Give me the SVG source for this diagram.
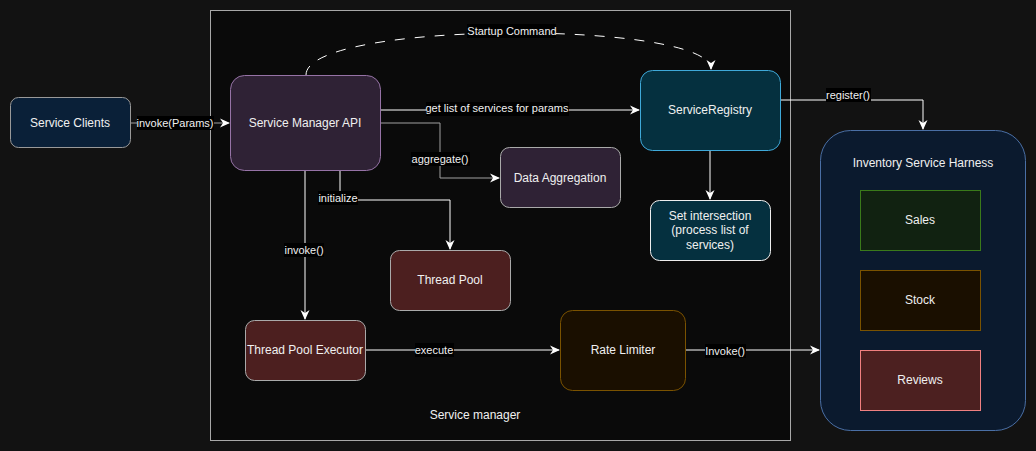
<svg xmlns="http://www.w3.org/2000/svg" width="1036" height="451" viewBox="0 0 1036 451">
<defs>
<style>
text{font-family:"Liberation Sans",Arial,sans-serif;fill:#f0f0f0;text-anchor:middle;dominant-baseline:central}
.n{font-size:12px}
.l{font-size:11px}
.e{fill:none;stroke:#ffffff;stroke-width:1}
.g{stroke:#a0a0a0}
.lb{fill:#000000}
</style>
<marker id="ah" viewBox="0 0 10 10" refX="9" refY="5" markerWidth="10" markerHeight="10" markerUnits="userSpaceOnUse" orient="auto">
<path d="M0,0.5 L10,5 L0,9.5 L3,5 Z" fill="#ffffff"/>
</marker>
</defs>
<rect x="0" y="0" width="1036" height="451" fill="#121212"/>
<g id="service-manager">
<rect x="210.5" y="10.5" width="580" height="430" fill="#0a0a0a" stroke="#a8a8a8"/>
<text class="n" x="475" y="415">Service manager</text>
</g>
<g id="connectors">
<path class="e g" d="M130,123 H229" marker-end="url(#ah)"/>
<path class="e" d="M306,75 C306,20 711,20 711,69" stroke-dasharray="10 10" marker-end="url(#ah)"/>
<path class="e" d="M380,110 H639" marker-end="url(#ah)"/>
<path class="e g" d="M380,123 H440 V178 H499" marker-end="url(#ah)"/>
<path class="e" d="M340,170 V200 H450 V249" marker-end="url(#ah)"/>
<path class="e" d="M305,170 V319" marker-end="url(#ah)"/>
<path class="e" d="M365,350 H559" marker-end="url(#ah)"/>
<path class="e" d="M685,350 H819" marker-end="url(#ah)"/>
<path class="e" d="M780,100 H923 V129" marker-end="url(#ah)"/>
<path class="e" d="M710,150 V199" marker-end="url(#ah)"/>
<rect class="lb" x="137" y="116" width="77" height="14"/>
<text class="l" x="175" y="123">invoke(Params)</text>
<rect class="lb" x="467" y="24" width="89" height="14"/>
<text class="l" x="512" y="31">Startup Command</text>
<rect class="lb" x="426" y="102" width="143" height="14"/>
<text class="l" x="497" y="108">get list of services for params</text>
<rect class="lb" x="411" y="152" width="59" height="14"/>
<text class="l" x="440" y="159">aggregate()</text>
<rect class="lb" x="318" y="191" width="40" height="14"/>
<text class="l" x="338" y="198">initialize</text>
<rect class="lb" x="284" y="243" width="40" height="14"/>
<text class="l" x="304" y="250">invoke()</text>
<rect class="lb" x="415" y="343" width="39" height="14"/>
<text class="l" x="434" y="350">execute</text>
<rect class="lb" x="705" y="344" width="41" height="14"/>
<text class="l" x="725" y="351">Invoke()</text>
<rect class="lb" x="826" y="88" width="45" height="14"/>
<text class="l" x="848" y="95">register()</text>
</g>
<g id="service-clients">
<rect x="10.5" y="97.5" width="120" height="50" rx="8" fill="#0a2038" stroke="#999999"/>
<text class="n" x="70" y="123">Service Clients</text>
</g>
<g id="service-manager-api">
<rect x="230.5" y="75.5" width="150" height="95" rx="14" fill="#2f2235" stroke="#9673a6"/>
<text class="n" x="305" y="123">Service Manager API</text>
</g>
<g id="service-registry">
<rect x="640.5" y="70.5" width="140" height="80" rx="12" fill="#05303f" stroke="#3fa9d9"/>
<text class="n" x="710" y="110">ServiceRegistry</text>
</g>
<g id="data-aggregation">
<rect x="500.5" y="147.5" width="120" height="60" rx="9" fill="#2f2235" stroke="#aaaaaa"/>
<text class="n" x="560" y="178">Data Aggregation</text>
</g>
<g id="set-intersection">
<rect x="650.5" y="200.5" width="120" height="60" rx="9" fill="#05303f" stroke="#eeeeee"/>
<text class="n" x="710" y="216">Set intersection</text>
<text class="n" x="710" y="230">(process list of</text>
<text class="n" x="710" y="245">services)</text>
</g>
<g id="thread-pool">
<rect x="390.5" y="250.5" width="120" height="60" rx="9" fill="#4c1f1f" stroke="#aaaaaa"/>
<text class="n" x="450" y="280">Thread Pool</text>
</g>
<g id="thread-pool-executor">
<rect x="245.5" y="320.5" width="120" height="60" rx="9" fill="#4c1f1f" stroke="#aaaaaa"/>
<text class="n" x="305" y="350">Thread Pool Executor</text>
</g>
<g id="rate-limiter">
<rect x="560.5" y="310.5" width="125" height="80" rx="12" fill="#1a0f00" stroke="#7a5200"/>
<text class="n" x="623" y="350">Rate Limiter</text>
</g>
<g id="inventory-service-harness">
<rect x="820.5" y="130.5" width="205" height="300" rx="30" fill="#0b1a2e" stroke="#4a6fa5"/>
<text class="n" x="923" y="163">Inventory Service Harness</text>
</g>
<g id="sales">
<rect x="860.5" y="190.5" width="120" height="60" fill="#112211" stroke="#3a7a1a"/>
<text class="n" x="920" y="220">Sales</text>
</g>
<g id="stock">
<rect x="860.5" y="270.5" width="120" height="60" fill="#1a0f00" stroke="#7a5200"/>
<text class="n" x="920" y="300">Stock</text>
</g>
<g id="reviews">
<rect x="860.5" y="350.5" width="120" height="60" fill="#4c2020" stroke="#f08080"/>
<text class="n" x="920" y="380">Reviews</text>
</g>
</svg>
